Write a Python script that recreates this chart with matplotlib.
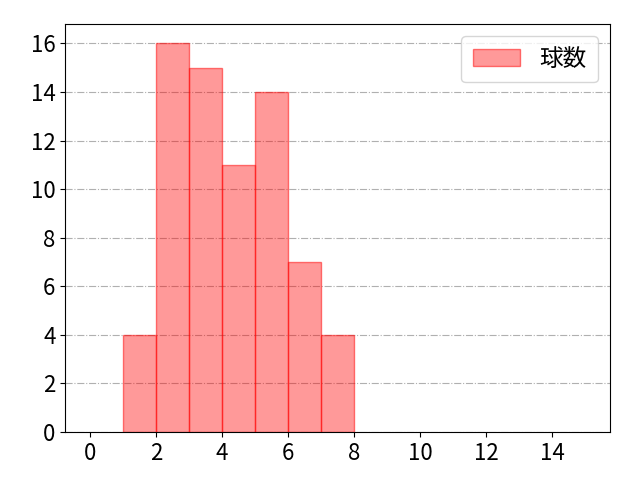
import matplotlib
matplotlib.use('Agg')
import matplotlib.pyplot as plt

plt.rcParams['font.family'] = ['Noto Sans CJK JP', 'DejaVu Sans']

bin_edges = list(range(0, 16))
counts = [0, 4, 16, 15, 11, 14, 7, 4, 0, 0, 0, 0, 0, 0, 0]
label = '球数'

left = [e for e, c in zip(bin_edges, counts) if c > 0]
heights = [c for c in counts if c > 0]

fig, ax = plt.subplots(figsize=(6.4, 4.8), dpi=100)
ax.bar(left, heights, width=1, align='edge',
       color=(1, 0, 0, 0.4), edgecolor=(1, 0, 0, 0.5), linewidth=1, label=label)
ax.set_ylim(0, 16.8)
ax.set_xlim(-0.75, 15.75)
ax.set_xticks(range(0, 15, 2))
ax.set_yticks(range(0, 17, 2))
ax.tick_params(labelsize=16)
ax.grid(axis='y', color='#b0b0b0', linestyle='-.', linewidth=0.8)
ax.set_axisbelow(True)
ax.legend(fontsize=17, loc='upper right', borderpad=0.5)
fig.subplots_adjust(left=0.102, right=0.953, top=0.95, bottom=0.1)
fig.savefig('out.png')
